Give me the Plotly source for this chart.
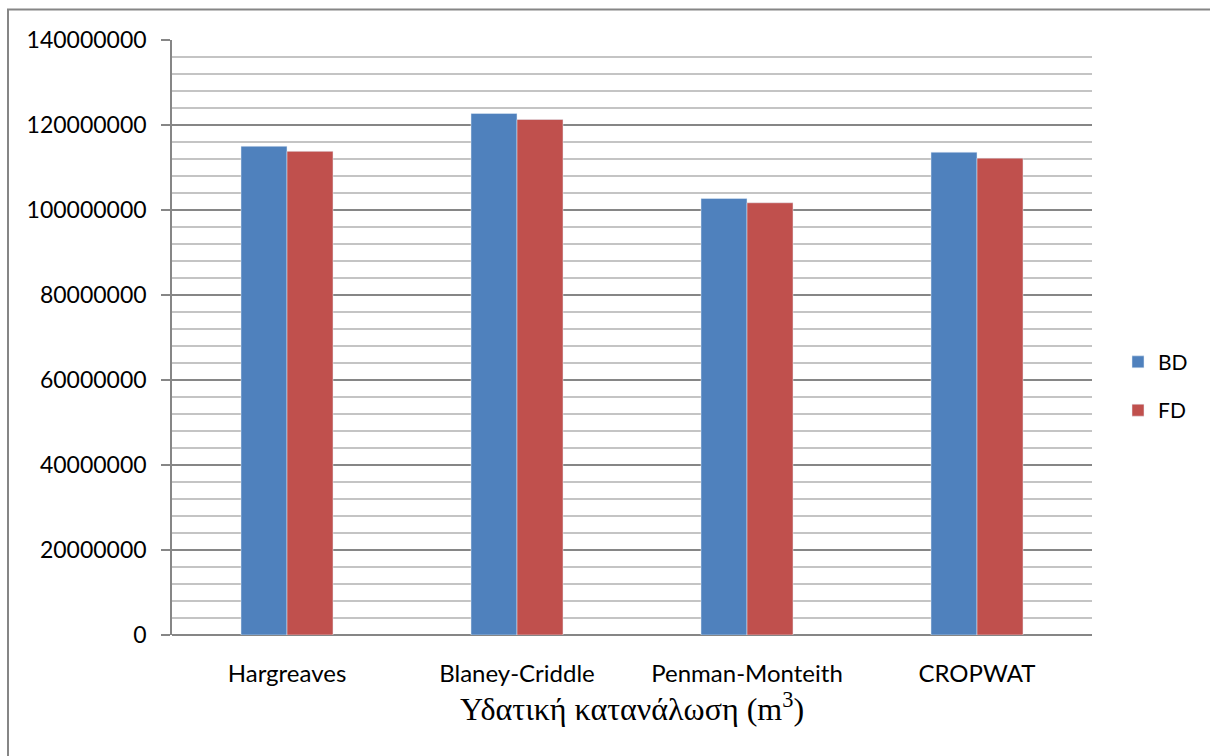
import plotly.graph_objects as go

# Water consumption per estimation method (m^3)
methods = ["Hargreaves", "Blaney-Criddle", "Penman-Monteith", "CROPWAT"]
bd_values = [115000000, 122700000, 102700000, 113600000]
fd_values = [113800000, 121300000, 101700000, 112200000]

y_ticks = [0, 20000000, 40000000, 60000000, 80000000, 100000000, 120000000, 140000000]

BLUE = "#4F81BD"
RED = "#C0504D"
AXIS_GREY = "#868686"
MINOR_GREY = "#C4C4C4"

# plot-area geometry in pixels (used for the frame drawn around the chart)
W, H = 1210, 756
L, R, T, B = 172, 118, 39.5, 121
pw = W - L - R
ph = H - T - B


def px_x(px):
    return (px - L) / pw


def px_y(py):
    return (H - B - py) / ph


fig = go.Figure()
fig.add_trace(go.Bar(name="BD", x=methods, y=bd_values, marker_color=BLUE,
                     legendgroup="bd"))
fig.add_trace(go.Bar(name="FD", x=methods, y=fd_values, marker_color=RED,
                     legendgroup="fd"))

fig.update_layout(
    width=W, height=H,
    margin=dict(l=L, r=R, t=T, b=B, autoexpand=False),
    paper_bgcolor="white", plot_bgcolor="white",
    barmode="group", bargap=0.6, bargroupgap=0.0,
    font=dict(family="Lato", size=22, color="#000000"),
    legend=dict(
        x=px_x(1118), xanchor="left",
        y=px_y(386), yanchor="middle",
        font=dict(family="Lato", size=21),
        traceorder="grouped", tracegroupgap=18,
        itemwidth=30, bgcolor="rgba(0,0,0,0)",
    ),
    xaxis=dict(
        showline=False, showgrid=False, ticks="",
        tickfont=dict(family="Lato", size=24),
        ticklabelstandoff=22,
        automargin=False,
        title=dict(
            text="Υδατική κατανάλωση (m<sup>3</sup>)",
            font=dict(family="Liberation Serif", size=32),
            standoff=4,
        ),
    ),
    yaxis=dict(
        range=[0, 140000000], tickvals=y_ticks, ticktext=[str(v) for v in y_ticks],
        showline=True, linecolor=AXIS_GREY, linewidth=1.5,
        ticks="outside", ticklen=9, tickcolor=AXIS_GREY, tickwidth=1.5,
        ticklabelstandoff=10,
        showgrid=True, gridcolor=AXIS_GREY, gridwidth=1.5,
        zeroline=True, zerolinecolor=AXIS_GREY, zerolinewidth=1.5,
        minor=dict(dtick=4000000, showgrid=True, gridcolor=MINOR_GREY,
                   gridwidth=1.5, ticks=""),
        automargin=False,
        tickfont=dict(family="Lato", size=23),
    ),
    shapes=[
        dict(type="rect", xref="paper", yref="paper", layer="above",
             x0=px_x(8), x1=px_x(W + 10),
             y0=px_y(H + 10), y1=px_y(9),
             line=dict(color=AXIS_GREY, width=2), fillcolor="rgba(0,0,0,0)"),
    ],
)

fig.write_html("out.html")
